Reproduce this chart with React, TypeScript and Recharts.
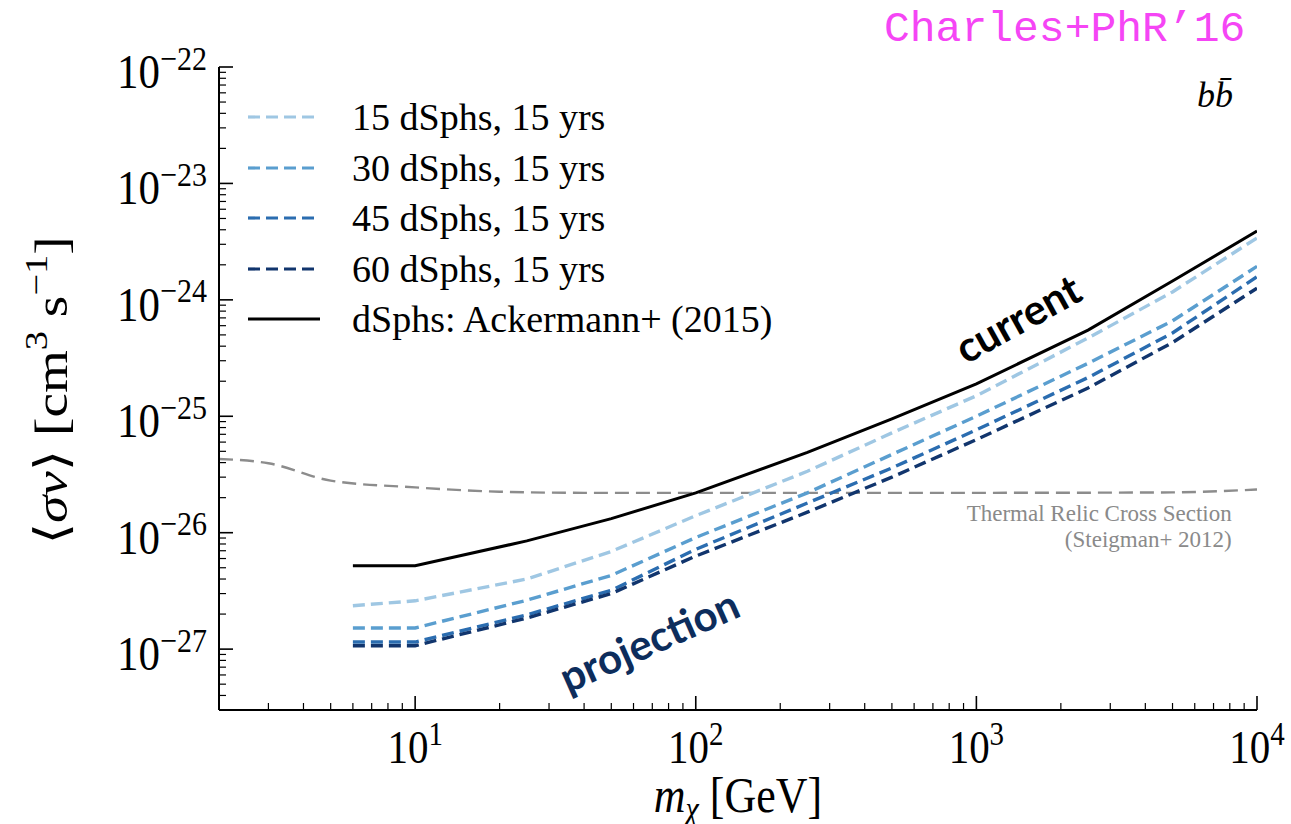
import React from 'react';
import { LineChart, Line, XAxis, YAxis, Legend, ReferenceDot, Label } from 'recharts';

// dark matter mass grid of the dSph limits [GeV]
const massGeV = [6, 10, 25, 50, 100, 250, 500, 1000, 2500, 5000, 10000];

// <sigma v> upper limits [cm^3 s^-1]
const sigmaAckermann2015 = [5.2e-27, 5.2e-27, 8.5e-27, 1.32e-26, 2.2e-26, 4.9e-26, 9.5e-26, 1.9e-25, 5.5e-25, 1.45e-24, 3.9e-24];
const sigma15dSphs = [2.36e-27, 2.6e-27, 4.0e-27, 6.9e-27, 1.4e-26, 3.37e-26, 7.2e-26, 1.5e-25, 4.7e-25, 1.17e-24, 3.4e-24];
const sigma30dSphs = [1.52e-27, 1.52e-27, 2.63e-27, 4.3e-27, 9.1e-27, 2.2e-26, 4.7e-26, 1.0e-25, 2.85e-25, 6.6e-25, 1.94e-24];
const sigma45dSphs = [1.15e-27, 1.15e-27, 1.97e-27, 3.2e-27, 7.2e-27, 1.8e-26, 3.6e-26, 7.65e-26, 2.15e-25, 5.2e-25, 1.58e-24];
const sigma60dSphs = [1.07e-27, 1.07e-27, 1.85e-27, 3.0e-27, 6.3e-27, 1.5e-26, 3.0e-26, 6.3e-26, 1.75e-25, 4.3e-25, 1.26e-24];

// thermal relic cross section (Steigman+ 2012)
const relicMassGeV = [2, 3, 5, 10, 20, 40, 100, 1000, 5000, 10000];
const relicSigma = [4.3e-26, 3.95e-26, 2.8e-26, 2.45e-26, 2.25e-26, 2.2e-26, 2.2e-26, 2.2e-26, 2.22e-26, 2.35e-26];

const xDecades = [1, 10, 100, 1000, 10000];
const yDecades = [1e-28, 1e-27, 1e-26, 1e-25, 1e-24, 1e-23, 1e-22];
const minorSteps = [1, 2, 3, 4, 5, 6, 7, 8, 9];

const X_MIN = 2;
const X_MAX = 1e4;
const Y_MIN = 3e-28;
const Y_MAX = 1e-22;

const SERIF = '"Liberation Serif", "DejaVu Serif", serif';
// the reference picture is a bit taller than wide, so glyphs get stretched
const STRETCH = 1.15;

const xTicks = xDecades
  .flatMap((d) => minorSteps.map((k) => k * d))
  .filter((v) => v > X_MIN * 1.001 && v <= X_MAX * 1.0001);
const yTicks = yDecades
  .flatMap((d) => minorSteps.map((k) => k * d))
  .filter((v) => v > Y_MIN * 1.001 && v <= Y_MAX * 1.0001);

const series = [
  { key: 'p15', name: '15 dSphs, 15 yrs', color: '#9fc7e3', dash: '12 6', values: sigma15dSphs },
  { key: 'p30', name: '30 dSphs, 15 yrs', color: '#5a9ecf', dash: '12 6', values: sigma30dSphs },
  { key: 'p45', name: '45 dSphs, 15 yrs', color: '#2b6db0', dash: '12 6', values: sigma45dSphs },
  { key: 'p60', name: '60 dSphs, 15 yrs', color: '#11356d', dash: '12 6', values: sigma60dSphs },
  { key: 'ack', name: 'dSphs: Ackermann+ (2015)', color: '#000000', dash: undefined, values: sigmaAckermann2015 }
];

const limitData = massGeV.map((m, i) => {
  const row: Record<string, number> = { m };
  series.forEach((s) => {
    row[s.key] = s.values[i];
  });
  return row;
});

const relicData = relicMassGeV.map((m, i) => ({ m, relic: relicSigma[i] }));

const isMajor = (v: number) => {
  const lg = Math.log10(v);
  return Math.abs(lg - Math.round(lg)) < 1e-6;
};

const LogTick = (props: any) => {
  const { x, y, payload, side } = props;
  const v = payload.value;
  const major = isMajor(v);
  const len = major ? 14 : 7;
  const exp = Math.round(Math.log10(v));
  const sw = major ? 1.6 : 1.2;

  if (side === 'bottom' || side === 'top') {
    const dir = side === 'bottom' ? -1 : 1;
    return (
      <g>
        <line x1={x} y1={y} x2={x} y2={y + dir * len} stroke="#000" strokeWidth={sw} />
        {major && side === 'bottom' && (
          <g transform={`translate(${x}, ${y + 53}) scale(1, ${STRETCH})`}>
            <text x={0} y={0} textAnchor="middle" fontFamily={SERIF} fontSize={41} fill="#000">
              <tspan>10</tspan>
              <tspan dy={-16} fontSize={29}>{exp}</tspan>
            </text>
          </g>
        )}
      </g>
    );
  }
  const dir = side === 'left' ? 1 : -1;
  return (
    <g>
      <line x1={x} y1={y} x2={x + dir * len} y2={y} stroke="#000" strokeWidth={sw} />
      {major && side === 'left' && (
        <g transform={`translate(${x - 12}, ${y + 21}) scale(1, ${STRETCH})`}>
          <text x={0} y={0} textAnchor="end" fontFamily={SERIF} fontSize={43} fill="#000">
            <tspan>10</tspan>
            <tspan dy={-16} fontSize={30}>{`\u2212${Math.abs(exp)}`}</tspan>
          </text>
        </g>
      )}
    </g>
  );
};

const YTitle = (props: any) => {
  const { viewBox } = props;
  const cx = viewBox.x + 33;
  const cy = viewBox.y + viewBox.height / 2 + 2;
  return (
    <g transform={`translate(${cx}, ${cy}) rotate(-90) scale(1.2, 1)`}>
      <text x={0} y={0} textAnchor="middle" dominantBaseline="central" fontFamily={SERIF} fontSize={46} fill="#000">
        <tspan>{'\u27E8'}</tspan>
        <tspan fontStyle="italic">{'\u03C3v'}</tspan>
        <tspan>{'\u27E9 [cm'}</tspan>
        <tspan dy={-16} fontSize={32}>3</tspan>
        <tspan dy={16}>{' s'}</tspan>
        <tspan dy={-16} fontSize={32}>{'\u22121'}</tspan>
        <tspan dy={16}>]</tspan>
      </text>
    </g>
  );
};

const XTitle = (props: any) => {
  const { viewBox } = props;
  const cx = viewBox.x + viewBox.width / 2;
  return (
    <g transform={`translate(${cx}, ${viewBox.y + 102}) scale(1, ${STRETCH})`}>
      <text x={0} y={0} textAnchor="middle" fontFamily={SERIF} fontSize={44} fill="#000">
        <tspan fontStyle="italic">m</tspan>
        <tspan dy={7} fontSize={30} fontStyle="italic">{'\u03C7'}</tspan>
        <tspan dy={-7}>{' [GeV]'}</tspan>
      </text>
    </g>
  );
};

const RotatedNote = (props: any) => {
  const { viewBox, note, rot, tint, size } = props;
  const cx = viewBox.x + viewBox.width / 2;
  const cy = viewBox.y + viewBox.height / 2;
  return (
    <g transform={`translate(${cx}, ${cy}) rotate(${rot})`}>
      <text x={0} y={0} textAnchor="middle" dominantBaseline="central"
        fontFamily="Lato, 'Open Sans', sans-serif" fontWeight={700} fontSize={size} fill={tint}>
        {note}
      </text>
    </g>
  );
};

const RelicNote = (props: any) => {
  const { viewBox } = props;
  const x = viewBox.x + viewBox.width / 2;
  const y = viewBox.y + viewBox.height / 2 + 5;
  return (
    <text x={x} y={y} textAnchor="end" fontFamily={SERIF} fontSize={23} fill="#8a8a8a">
      <tspan x={x}>Thermal Relic Cross Section</tspan>
      <tspan x={x} dy={26}>(Steigman+ 2012)</tspan>
    </text>
  );
};

const ChannelNote = (props: any) => {
  const { viewBox } = props;
  const x = viewBox.x + viewBox.width / 2;
  const y = viewBox.y + viewBox.height / 2;
  return (
    <text x={x} y={y} textAnchor="middle" dominantBaseline="central" fontFamily={SERIF} fontStyle="italic"
      fontSize={36} fill="#000">
      {'bb\u0304'}
    </text>
  );
};

const renderLegend = () => (
  <div style={{ fontFamily: SERIF, fontSize: 38, color: '#000' }}>
    {series.map((s) => (
      <div key={s.key} style={{ display: 'flex', alignItems: 'center', height: 50.5 }}>
        <svg width={80} height={10}>
          <line x1={2} y1={5} x2={74} y2={5} stroke={s.color} strokeWidth={3.2} strokeDasharray={s.dash} />
        </svg>
        <span style={{ marginLeft: 26, whiteSpace: 'nowrap', lineHeight: '50px' }}>{s.name}</span>
      </div>
    ))}
  </div>
);

const App = () => {
  return (
    <div style={{ position: 'absolute', left: 0, top: 0, width: 1291, height: 824, background: '#fff', overflow: 'hidden' }}>
      <LineChart width={1291} height={824} data={limitData} margin={{ top: 67, right: 34, bottom: 14, left: 19 }}>
        <XAxis dataKey="m" type="number" scale="log" domain={[X_MIN, X_MAX]} allowDataOverflow ticks={xTicks}
          interval={0} tickSize={0} tickMargin={0} height={100} tickLine={false}
          axisLine={{ stroke: '#000', strokeWidth: 2 }} tick={<LogTick side="bottom" />}>
          <Label content={<XTitle />} />
        </XAxis>
        <XAxis xAxisId="top" orientation="top" dataKey="m" type="number" scale="log" domain={[X_MIN, X_MAX]}
          allowDataOverflow ticks={xTicks} interval={0} tickSize={0} tickMargin={0} height={0} tickLine={false}
          axisLine={{ stroke: '#000', strokeWidth: 2 }} tick={<LogTick side="top" />} />
        <YAxis type="number" scale="log" domain={[Y_MIN, Y_MAX]} allowDataOverflow ticks={yTicks} interval={0}
          tickSize={0} tickMargin={0} width={200} tickLine={false} axisLine={{ stroke: '#000', strokeWidth: 2 }}
          tick={<LogTick side="left" />}>
          <Label content={<YTitle />} />
        </YAxis>
        <YAxis yAxisId="right" orientation="right" type="number" scale="log" domain={[Y_MIN, Y_MAX]} allowDataOverflow
          ticks={yTicks} interval={0} tickSize={0} tickMargin={0} width={0} tickLine={false}
          axisLine={{ stroke: '#000', strokeWidth: 2 }} tick={<LogTick side="right" />} />

        <Line data={relicData} dataKey="relic" type="monotone" stroke="#8c8c8c" strokeWidth={2.4}
          strokeDasharray="14 7" dot={false} legendType="none" isAnimationActive={false} />
        {series.map((s) => (
          <Line key={s.key} dataKey={s.key} name={s.name} type="linear" stroke={s.color}
            strokeWidth={s.dash ? 3.4 : 3} strokeDasharray={s.dash} dot={false} isAnimationActive={false} />
        ))}

        <ReferenceDot x={1400} y={7e-25} r={1} fill="none" stroke="none" ifOverflow="visible"
          label={<RotatedNote note="current" rot={-29} tint="#000" size={42} />} />
        <ReferenceDot x={68} y={1.2e-27} r={1} fill="none" stroke="none" ifOverflow="visible"
          label={<RotatedNote note="projection" rot={-24} tint="#0d2d5c" size={42} />} />
        <ReferenceDot x={8130} y={1.4e-26} r={1} fill="none" stroke="none" ifOverflow="visible"
          label={<RelicNote />} />
        <ReferenceDot x={7080} y={5.8e-23} r={1} fill="none" stroke="none" ifOverflow="visible"
          label={<ChannelNote />} />

        <Legend content={renderLegend} layout="vertical" align="center" verticalAlign="middle"
          wrapperStyle={{ left: 246, top: 92, width: 'auto' }} />
      </LineChart>
      <div style={{ position: 'absolute', left: 884, top: 5, fontFamily: '"Liberation Mono", "DejaVu Sans Mono", monospace',
        fontSize: 43, color: '#f545f5', whiteSpace: 'nowrap' }}>
        Charles+PhR{'\u2019'}16
      </div>
    </div>
  );
};

export default App;
